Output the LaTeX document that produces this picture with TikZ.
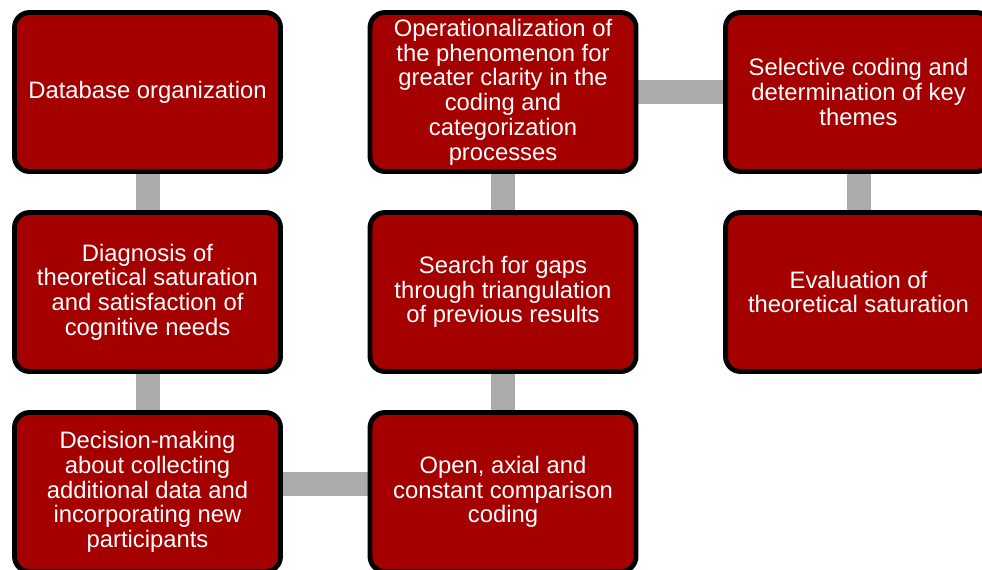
\documentclass[tikz,border=0pt]{standalone}
\usepackage{fontspec}
\setmainfont{Liberation Sans}
\usetikzlibrary{backgrounds}
\definecolor{boxred}{RGB}{165,0,0}
\definecolor{linkgray}{RGB}{171,171,171}
\begin{document}
\begin{tikzpicture}[x=0.02cm, y=-0.02cm,
  stage/.style={draw=black, line width=2.8pt, fill=boxred, rounded corners=0.3cm,
    minimum width=5.32cm, minimum height=3.18cm, text=white, align=center,
    font=\fontsize{13.55}{14.1}\selectfont},
  link/.style={draw=linkgray, line width=0.48cm}]
\useasboundingbox (0,0) rectangle (982,569);
\clip (0,0) rectangle (982,569);
\node[stage] (a) at (147.5,92) {Database organization};
\node[stage] (b) at (147.5,292) {Diagnosis of\\theoretical saturation\\and satisfaction of\\cognitive needs};
\node[stage] (c) at (147.5,492) {Decision-making\\about collecting\\additional data and\\incorporating new\\participants};
\node[stage] (d) at (503,92) {Operationalization of\\the phenomenon for\\greater clarity in the\\coding and\\categorization\\processes};
\node[stage] (e) at (503,292) {Search for gaps\\through triangulation\\of previous results};
\node[stage] (f) at (503,492) {Open, axial and\\constant comparison\\coding};
\node[stage] (g) at (858.5,92) {Selective coding and\\determination of key\\themes};
\node[stage] (h) at (858.5,292) {Evaluation of\\theoretical saturation};
\begin{scope}[on background layer]
\draw[link] (a) -- (b);
\draw[link] (b) -- (c);
\draw[link] ([yshift=0.16cm]c.center) -- ([yshift=0.16cm]f.center);
\draw[link] (f) -- (e);
\draw[link] (e) -- (d);
\draw[link] (d) -- (g);
\draw[link] (g) -- (h);
\end{scope}
\end{tikzpicture}
\end{document}
